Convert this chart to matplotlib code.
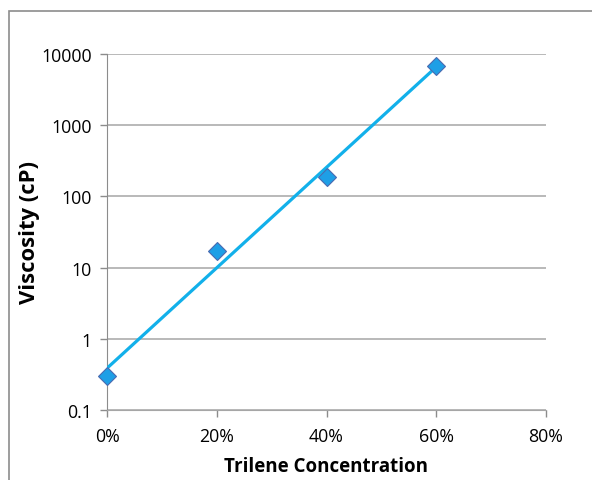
import matplotlib.pyplot as plt
import numpy as np
from matplotlib.patches import Rectangle
from matplotlib.ticker import FixedLocator, FixedFormatter, NullLocator

plt.rcParams['font.family'] = ['Open Sans', 'DejaVu Sans']

# data
concentration = [0.0, 0.2, 0.4, 0.6]
viscosity = [0.30, 17.0, 186.0, 6800.0]
x_ticks = [0.0, 0.2, 0.4, 0.6, 0.8]
x_labels = ['0%', '20%', '40%', '60%', '80%']
y_ticks = [0.1, 1, 10, 100, 1000, 10000]
y_labels = ['0.1', '1', '10', '100', '1000', '10000']

# exponential trendline (Excel style) fitted to the points
slope, icpt = np.polyfit(concentration, np.log10(viscosity), 1)
trend_x = np.array([concentration[0], concentration[-1]])
trend_y = 10 ** (icpt + slope * trend_x)

fig = plt.figure(figsize=(5.92, 4.81), dpi=100)
ax = fig.add_axes([107 / 592, 1 - 411 / 481, (546 - 107) / 592, (411 - 55) / 481])

ax.set_yscale('log')
ax.set_xlim(0, 0.8)
ax.set_ylim(0.1, 10000)

ax.plot(trend_x, trend_y, color='#12b0ea', lw=2.3, zorder=3, solid_capstyle='round')
ax.plot(concentration, viscosity, 'D', ms=9, mfc='#1e9fe6', mec='#4a6ab0',
        mew=0.8, zorder=4, clip_on=False)

ax.xaxis.set_major_locator(FixedLocator(x_ticks))
ax.xaxis.set_major_formatter(FixedFormatter(x_labels))
ax.yaxis.set_major_locator(FixedLocator(y_ticks))
ax.yaxis.set_major_formatter(FixedFormatter(y_labels))
ax.yaxis.set_minor_locator(NullLocator())

ax.grid(axis='y', color='#a6a6a6', lw=1.1)
ax.set_axisbelow(True)
for s in ['top', 'right']:
    ax.spines[s].set_visible(False)
ax.spines['left'].set_color('#8c8c8c')
ax.spines['bottom'].set_color('#a6a6a6')
ax.tick_params(axis='both', colors='#8c8c8c', labelcolor='black', labelsize=12.8,
               length=5, width=1)
ax.tick_params(axis='y', pad=6)
ax.tick_params(axis='x', pad=7)

ax.set_xlabel('Trilene Concentration', fontsize=13.5, fontweight='bold', labelpad=8)
ax.set_ylabel('Viscosity (cP)', fontsize=15.8, fontweight='bold', labelpad=1)

# chart area border
fig.add_artist(Rectangle((9 / 592, -0.1), 1.0, (481 - 12) / 481 + 0.1,
                         transform=fig.transFigure, fill=False,
                         edgecolor='#8c8c8c', lw=1.2))

fig.savefig('out.png', dpi=100)
